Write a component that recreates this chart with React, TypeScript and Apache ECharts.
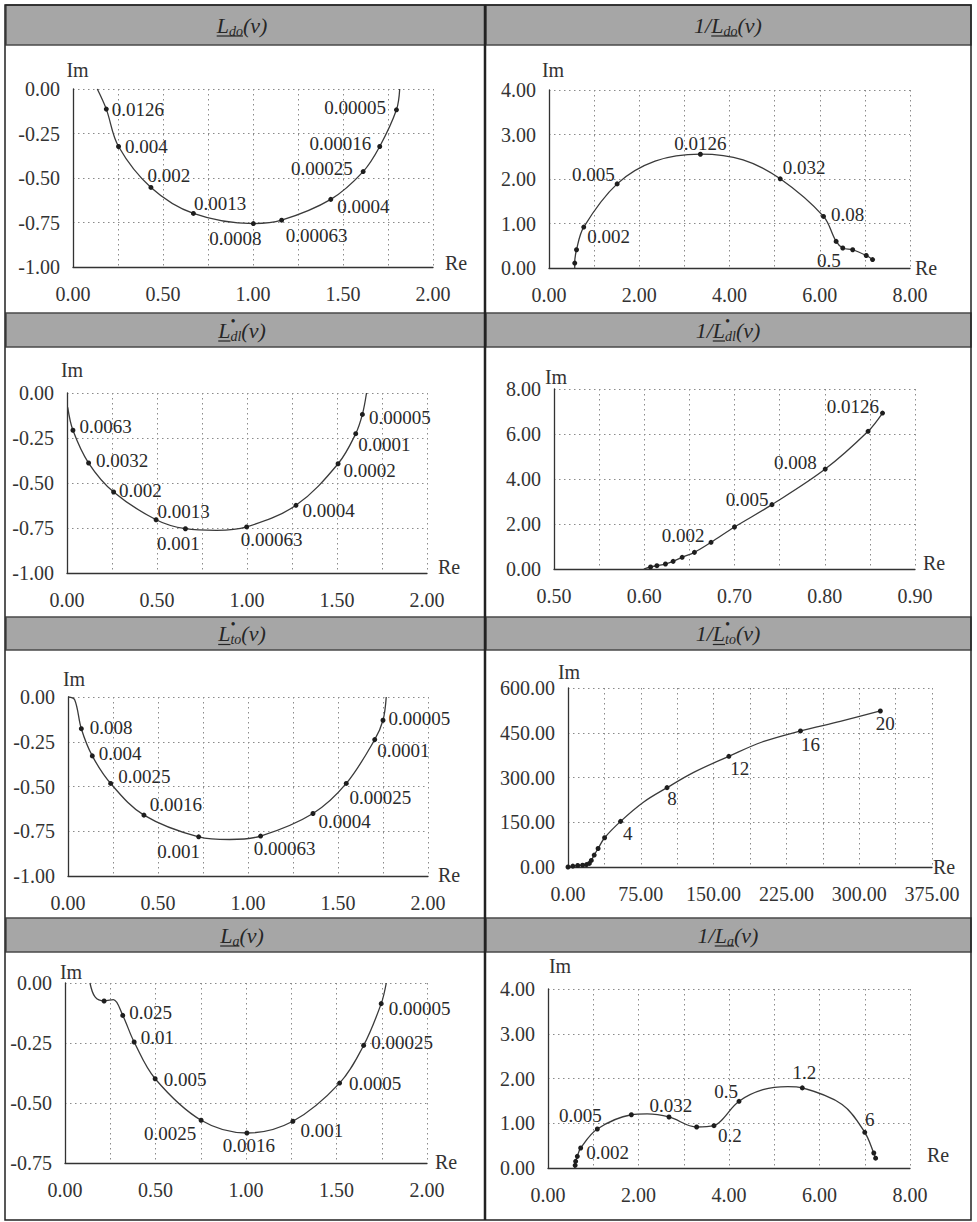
import React, { useEffect, useRef } from 'react';
import * as echarts from 'echarts';

// ---------- DATA (Re, Im, frequency label; '' = marker only, null = curve point only) ----------
type P = [number, number, string | null];

const ldoPts: P[] = [
  [0.135, 0, null], [0.185, -0.113, '0.0126'], [0.253, -0.323, '0.004'], [0.433, -0.553, '0.002'],
  [0.669, -0.699, '0.0013'], [1.002, -0.756, '0.0008'], [1.159, -0.737, '0.00063'], [1.432, -0.62, '0.0004'],
  [1.612, -0.464, '0.00025'], [1.704, -0.323, '0.00016'], [1.797, -0.117, '0.00005'], [1.815, 0, null],
];
const invLdoPts: P[] = [
  [0.57, 0, null], [0.57, 0.11, ''], [0.61, 0.41, ''], [0.77, 0.92, '0.002'], [1.51, 1.89, '0.005'],
  [2.35, 2.4, null], [3.355, 2.557, '0.0126'], [4.3, 2.43, null], [5.124, 2.004, '0.032'],
  [6.083, 1.159, '0.08'], [6.363, 0.598, ''], [6.51, 0.45, '0.5'], [6.73, 0.41, ''], [7.03, 0.28, ''], [7.17, 0.19, ''],
];
const ldlPts: P[] = [
  [0.004, -0.08, null], [0.033, -0.207, '0.0063'], [0.12, -0.389, '0.0032'], [0.259, -0.55, '0.002'],
  [0.495, -0.704, '0.0013'], [0.658, -0.754, '0.001'], [0.83, -0.763, null], [0.998, -0.744, '0.00063'],
  [1.272, -0.624, '0.0004'], [1.506, -0.393, '0.0002'], [1.604, -0.226, '0.0001'], [1.641, -0.119, '0.00005'],
  [1.664, 0, null],
];
const invLdlPts: P[] = [
  [0.5995, 0, null], [0.607, 0.089, ''], [0.614, 0.148, ''], [0.6235, 0.222, ''], [0.632, 0.34, ''],
  [0.642, 0.52, ''], [0.6556, 0.74, ''], [0.674, 1.185, '0.002'], [0.7, 1.867, ''], [0.7415, 2.86, '0.005'],
  [0.8005, 4.44, '0.008'], [0.848, 6.12, ''], [0.864, 6.93, '0.0126'],
];
const ltoPts: P[] = [
  [0.0, 0.0, null], [0.037, -0.015, null], [0.074, -0.177, '0.008'], [0.135, -0.329, '0.004'],
  [0.237, -0.483, '0.0025'], [0.422, -0.66, '0.0016'], [0.726, -0.781, '0.001'], [0.898, -0.796, null],
  [1.07, -0.777, '0.00063'], [1.361, -0.651, '0.0004'], [1.546, -0.483, '0.00025'], [1.704, -0.238, '0.0001'],
  [1.75, -0.13, '0.00005'], [1.768, 0, null],
];
const invLtoPts: P[] = [
  [0, 0, ''], [5, 3, ''], [10, 5, ''], [15, 6, ''], [19, 8, ''], [22, 12, ''], [24, 22, ''], [27, 40, ''],
  [31, 62, ''], [37.7, 98, ''], [54.2, 153, '4'], [78, 218, null], [102, 266, '8'], [130, 318, null],
  [165.7, 371, '12'], [200, 419, null], [239.5, 456, '16'], [280.5, 488, null], [321.8, 523, '20'],
];
const laPts: P[] = [
  [0.138, 0, null], [0.166, -0.058, null], [0.216, -0.075, ''], [0.267, -0.069, null], [0.319, -0.135, '0.025'],
  [0.382, -0.246, '0.01'], [0.498, -0.399, '0.005'], [0.752, -0.572, '0.0025'], [1.005, -0.625, '0.0016'],
  [1.259, -0.576, '0.001'], [1.517, -0.417, '0.0005'], [1.65, -0.26, '0.00025'], [1.747, -0.086, '0.00005'],
  [1.775, 0, null],
];
const invLaPts: P[] = [
  [0.589, 0, null], [0.6, 0.06, ''], [0.611, 0.149, ''], [0.648, 0.26, ''], [0.722, 0.447, '0.002'],
  [1.09, 0.872, '0.005'], [1.842, 1.19, ''], [2.19, 1.21, null], [2.674, 1.14, '0.032'], [3.285, 0.916, ''],
  [3.668, 0.946, '0.2'], [3.82, 1.05, null], [4.221, 1.49, '0.5'], [4.75, 1.75, null], [5.3, 1.82, null],
  [5.62, 1.79, '1.2'], [6.5, 1.42, null], [7.0, 0.797, '6'], [7.2, 0.335, ''], [7.24, 0.22, ''],
];

// axis ranges: [min, max, grid step, label step]
const xTicksUnit = [0, 2, 0.25, 0.5];
const xTicks8 = [0, 8, 1, 2];
const xTicksP4 = [0.5, 0.9, 0.05, 0.1];
const xTicksP6 = [0, 375, 37.5, 75];
const yTicksNeg1 = [-1, 0, 0.25];
const yTicksNeg075 = [-0.75, 0, 0.25];
const yTicks4 = [0, 4, 1];
const yTicks8 = [0, 8, 2];
const yTicks600 = [0, 600, 150];

// ---------- LAYOUT ----------
type Place = Record<string, [string, number, number]>;
const placeP1: Place = {
  '0.0126': ['right', -2, 0], '0.004': ['right', -1, 0], '0.002': ['right', -11, -12], '0.0013': ['right', -7, -10],
  '0.0008': ['bottom', -18, -2], '0.00063': ['bottom', 35, -2], '0.0004': ['right', -1, 7],
  '0.00025': ['left', -3, -3], '0.00016': ['left', -1, -3], '0.00005': ['left', -3, -2],
};
const placeP2: Place = {
  '0.002': ['right', -4, 9], '0.005': ['left', 5, -9], '0.0126': ['top', 0, 6], '0.032': ['right', -5, -11],
  '0.08': ['right', 0, -2], '0.5': ['bottom', -14, -4],
};
const placeP3: Place = {
  '0.0063': ['right', -1, -4], '0.0032': ['right', 0, -3], '0.002': ['right', -2, -2], '0.0013': ['right', -6, -8],
  '0.001': ['bottom', -7, -2], '0.00063': ['bottom', 25, -4], '0.0004': ['right', -1, 5], '0.0002': ['right', -2, 7],
  '0.0001': ['right', -5, 11], '0.00005': ['right', -1, 3],
};
const placeP4: Place = {
  '0.002': ['left', 1, -7], '0.005': ['left', 4, -5], '0.008': ['left', -1, -7], '0.0126': ['left', 4, -7],
};
const placeP5: Place = {
  '0.008': ['right', 1, -1], '0.004': ['right', -1, -2], '0.0025': ['right', 0, -7], '0.0016': ['top', 32, 6],
  '0.001': ['bottom', -20, -2], '0.00063': ['bottom', 24, -5], '0.0004': ['right', -2, 8],
  '0.00025': ['bottom', 34, -3], '0.0001': ['right', -5, 11], '0.00005': ['right', -2, -2],
};
const placeP6: Place = {
  '4': ['right', -5, 12], '8': ['bottom', 5, -6], '12': ['bottom', 11, -5], '16': ['bottom', 10, -3], '20': ['bottom', 5, -4],
};
const placeP7: Place = {
  '0.025': ['right', -1, -3], '0.01': ['right', -1, -5], '0.005': ['right', 1, 1], '0.0025': ['bottom', -31, -4],
  '0.0016': ['bottom', 2, -5], '0.001': ['right', 0, 9], '0.0005': ['right', 2, 0], '0.00025': ['right', 0, -3],
  '0.00005': ['right', 0, 5],
};
const placeP8: Place = {
  '0.002': ['right', -2, 5], '0.005': ['top', -17, 4], '0.032': ['top', 2, 6], '0.2': ['bottom', 16, -7],
  '0.5': ['top', -13, 7], '1.2': ['top', 2, 2], '6': ['top', 5, 4],
};

const FONT = "'Liberation Serif', 'Times New Roman', serif";

const panels = [
  { pts: ldoPts, place: placeP1, x: xTicksUnit, y: yTicksNeg1, rect: [73, 89, 360, 178], im: [4.5, -19], re: [12, -4] },
  { pts: invLdoPts, place: placeP2, x: xTicks8, y: yTicks4, rect: [549, 90, 361, 178], im: [4, -20], re: [5, 0] },
  { pts: ldlPts, place: placeP3, x: xTicksUnit, y: yTicksNeg1, rect: [67, 393, 360, 180], im: [5, -23], re: [11, -6] },
  { pts: invLdlPts, place: placeP4, x: xTicksP4, y: yTicks8, rect: [554, 389, 361, 180], im: [2, -12], re: [8, -6] },
  { pts: ltoPts, place: placeP5, x: xTicksUnit, y: yTicksNeg1, rect: [68, 697, 360, 179], im: [6, -18], re: [10, -1] },
  { pts: invLtoPts, place: placeP6, x: xTicksP6, y: yTicks600, rect: [568, 688, 364, 179], im: [1, -16], re: [1, 0] },
  { pts: laPts, place: placeP7, x: xTicksUnit, y: yTicksNeg075, rect: [65, 983, 362, 180], im: [6, -11], re: [8, -1] },
  { pts: invLaPts, place: placeP8, x: xTicks8, y: yTicks4, rect: [548, 989, 362, 179], im: [12, -23], re: [17, -13] },
];

// header titles: [text, kind(m=main,b=sub,p=sup), underline]
type Part = [string, string, number];
const titleRows: Part[][][] = [
  [[['L', 'm', 1], ['do', 'b', 1], ['(ν)', 'm', 0]], [['1/', 'm', 0], ['L', 'm', 1], ['do', 'b', 1], ['(ν)', 'm', 0]]],
  [[['L', 'm', 1], ['•', 'p', 0], ['dl', 'b', 0], ['(ν)', 'm', 0]], [['1/', 'm', 0], ['L', 'm', 1], ['•', 'p', 0], ['dl', 'b', 0], ['(ν)', 'm', 0]]],
  [[['L', 'm', 1], ['•', 'p', 0], ['to', 'b', 0], ['(ν)', 'm', 0]], [['1/', 'm', 0], ['L', 'm', 1], ['•', 'p', 0], ['to', 'b', 0], ['(ν)', 'm', 0]]],
  [[['L', 'm', 1], ['a', 'b', 1], ['(ν)', 'm', 0]], [['1/', 'm', 0], ['L', 'm', 1], ['a', 'b', 1], ['(ν)', 'm', 0]]],
];
const headerYs = [[5, 45], [313, 347], [617, 650], [918, 952]];

let measureCtx: CanvasRenderingContext2D | null = null;
function measure(text: string, size: number): number {
  if (!measureCtx) measureCtx = document.createElement('canvas').getContext('2d');
  if (!measureCtx) return text.length * size * 0.5;
  measureCtx.font = `italic ${size}px 'Liberation Serif'`;
  return measureCtx.measureText(text).width;
}

function onStep(v: number, step: number) {
  const r = v / step;
  return Math.abs(r - Math.round(r)) < 1e-6;
}

function buildData(pts: P[], place: Place) {
  return pts.map(([x, y, l]) => {
    const item: any = { value: [x, y] };
    if (l === null) {
      item.symbol = 'none';
    } else if (l !== '') {
      const pl = place[l] || ['right', 0, 0];
      item.label = { show: true, formatter: l, position: pl[0], offset: [pl[1], pl[2]], distance: 5 };
    }
    return item;
  });
}

function titleGroup(parts: Part[], cx: number, cy: number) {
  const MAIN = 22, SMALL = 14;
  let x = 0;
  const children: any[] = [];
  let ulStart = -1, ulEnd = -1;
  parts.forEach(([t, kind, ul]) => {
    const size = kind === 'm' ? MAIN : SMALL;
    const w = measure(t, size);
    const px = x;
    let dy = 0;
    if (kind === 'b') dy = 6;
    if (kind === 'p') dy = -9;
    children.push({ t, size, px, dy });
    if (ul) {
      if (ulStart < 0) ulStart = px;
      ulEnd = px + w;
    }
    if (kind !== 'p') x += w;
  });
  const x0 = cx - x / 2;
  const els: any[] = children.map((c) => ({
    type: 'text', x: x0 + c.px, y: cy + c.dy, z: 20,
    style: { text: c.t, fontSize: c.size, fontFamily: FONT, fontStyle: 'italic', fill: '#262626', align: 'left', verticalAlign: 'middle' },
  }));
  if (ulStart >= 0) {
    els.push({ type: 'line', z: 20, shape: { x1: x0 + ulStart, y1: cy + 11, x2: x0 + ulEnd, y2: cy + 11 }, style: { stroke: '#262626', lineWidth: 1.2 } });
  }
  return els;
}

function buildOption() {
  const grid = panels.map((p) => ({ left: p.rect[0], top: p.rect[1], width: p.rect[2], height: p.rect[3], containLabel: false }));
  const split = { show: true, lineStyle: { color: '#8a8a8a', width: 1, type: [1.5, 3.5] } };
  const xAxis = panels.map((p, i) => ({
    type: 'value', gridIndex: i, min: p.x[0], max: p.x[1], interval: p.x[2],
    axisLine: { show: true, onZero: false, lineStyle: { color: '#333', width: 1.3 } },
    axisTick: { show: false },
    axisLabel: {
      show: true, margin: 17, color: '#333', fontSize: 20, fontFamily: FONT,
      formatter: (v: number) => (onStep(v, p.x[3]) ? v.toFixed(2) : ''),
    },
    splitLine: split,
  }));
  const yAxis = panels.map((p, i) => ({
    type: 'value', gridIndex: i, min: p.y[0], max: p.y[1], interval: p.y[2],
    axisLine: { show: true, onZero: false, lineStyle: { color: '#333', width: 1.3 } },
    axisTick: { show: false },
    axisLabel: { show: true, margin: 13, color: '#333', fontSize: 20, fontFamily: FONT, formatter: (v: number) => v.toFixed(2) },
    splitLine: split,
  }));
  const series = panels.map((p, i) => ({
    type: 'line', xAxisIndex: i, yAxisIndex: i, smooth: 0.35, showAllSymbol: true,
    symbol: 'circle', symbolSize: 5, clip: false, silent: true, z: 3,
    lineStyle: { color: '#3a3a3a', width: 1.3 },
    itemStyle: { color: '#1e1e1e' },
    label: { show: false, fontFamily: FONT, fontSize: 19, color: '#2a2a2a' },
    emphasis: { disabled: true },
    data: buildData(p.pts, p.place),
  }));

  const graphic: any[] = [];
  graphic.push({ type: 'rect', z: 10, shape: { x: 5, y: 5, width: 966, height: 1215 }, style: { fill: 'none', stroke: '#222', lineWidth: 1.5 } });
  graphic.push({ type: 'line', z: 10, shape: { x1: 485, y1: 5, x2: 485, y2: 1220 }, style: { stroke: '#222', lineWidth: 2.5 } });
  headerYs.forEach(([y0, y1], r) => {
    graphic.push({ type: 'rect', z: 9, shape: { x: 6, y: y0, width: 479, height: y1 - y0 }, style: { fill: '#a6a6a6', stroke: '#4a4a4a', lineWidth: 1.5 } });
    graphic.push({ type: 'rect', z: 9, shape: { x: 486, y: y0, width: 485, height: y1 - y0 }, style: { fill: '#a6a6a6', stroke: '#4a4a4a', lineWidth: 1.5 } });
    const cy = (y0 + y1) / 2;
    graphic.push(...titleGroup(titleRows[r][0], 242, cy));
    graphic.push(...titleGroup(titleRows[r][1], 728, cy));
  });
  panels.forEach((p) => {
    const [l, t, w, h] = p.rect;
    graphic.push({
      type: 'text', x: l + p.im[0], y: t + p.im[1], z: 11,
      style: { text: 'Im', fontSize: 20, fontFamily: FONT, fill: '#333', align: 'center', verticalAlign: 'middle' },
    });
    graphic.push({
      type: 'text', x: l + w + p.re[0], y: t + h + p.re[1], z: 11,
      style: { text: 'Re', fontSize: 20, fontFamily: FONT, fill: '#333', align: 'left', verticalAlign: 'middle' },
    });
  });

  return { animation: false, backgroundColor: '#fff', grid, xAxis, yAxis, series, graphic };
}

export default function App() {
  const ref = useRef<HTMLDivElement>(null);
  useEffect(() => {
    if (!ref.current) return;
    const chart = echarts.init(ref.current, null, { renderer: 'svg' });
    chart.setOption(buildOption() as any);
    return () => chart.dispose();
  }, []);
  return <div ref={ref} style={{ position: 'absolute', left: 0, top: 0, width: 977, height: 1222, background: '#fff' }} />;
}
